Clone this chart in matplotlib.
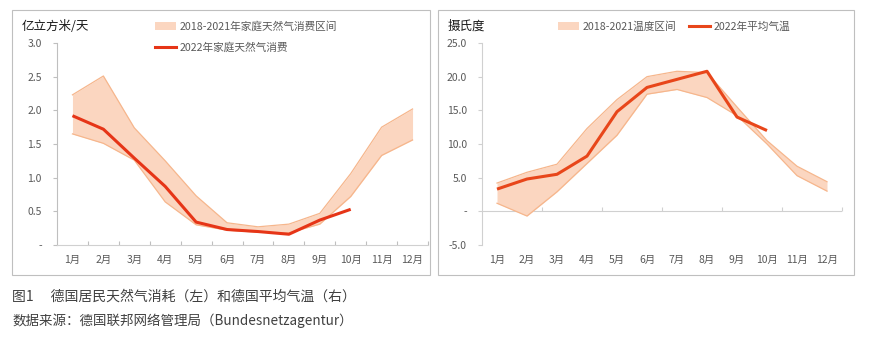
import matplotlib
matplotlib.use("Agg")
import matplotlib.pyplot as plt
from matplotlib.patches import Rectangle, Patch
from matplotlib.lines import Line2D
from matplotlib.ticker import FuncFormatter, FixedLocator

plt.rcParams['font.family'] = ['Noto Sans CJK SC', 'DejaVu Sans']

months = ['1月', '2月', '3月', '4月', '5月', '6月', '7月', '8月', '9月', '10月', '11月', '12月']

gas_upper = [2.23, 2.51, 1.74, 1.25, 0.73, 0.33, 0.27, 0.31, 0.47, 1.06, 1.75, 2.02]
gas_lower = [1.65, 1.51, 1.26, 0.64, 0.30, 0.22, 0.19, 0.18, 0.31, 0.72, 1.33, 1.56]
gas_2022 = [1.92, 1.72, 1.29, 0.87, 0.34, 0.23, 0.20, 0.16, 0.37, 0.53]

temp_upper = [4.2, 5.8, 7.0, 12.3, 16.6, 20.0, 20.8, 20.6, 15.5, 10.5, 6.7, 4.4]
temp_lower = [1.2, -0.7, 2.9, 7.1, 11.3, 17.4, 18.1, 16.9, 14.2, 10.0, 5.3, 3.0]
temp_2022 = [3.3, 4.8, 5.5, 8.2, 14.8, 18.4, 19.6, 20.8, 14.0, 12.0]

gas_yticks = [0, 0.5, 1.0, 1.5, 2.0, 2.5, 3.0]
temp_yticks = [-5, 0, 5, 10, 15, 20, 25]

W, H = 872, 348
fig = plt.figure(figsize=(W / 100, H / 100), dpi=100)

FILL = '#FBD6C0'
EDGE = '#F6B68C'
TICKC = '#595959'

def fx(px):
    return px / W

def fy(py):
    return 1 - py / H

# panel boxes
for x0, x1 in [(12, 430), (438, 854)]:
    fig.patches.append(Rectangle((fx(x0), fy(275)), fx(x1) - fx(x0), fy(10) - fy(275),
                                 transform=fig.transFigure, fill=False,
                                 edgecolor='#BFBFBF', linewidth=0.8))

x = list(range(12))

def fmt(v, pos):
    if abs(v) < 1e-9:
        return '-'
    return f'{v:.1f}'

# ---------- left panel ----------
ax1 = fig.add_axes([fx(57), fy(245), fx(428) - fx(57), fy(43) - fy(245)])
ax1.fill_between(x, gas_lower, gas_upper, color=FILL, linewidth=0)
ax1.plot(x, gas_upper, color=EDGE, linewidth=0.9)
ax1.plot(x, gas_lower, color=EDGE, linewidth=0.9)
ax1.plot(range(len(gas_2022)), gas_2022, color='#E63517', linewidth=2.2, solid_capstyle='butt')
ax1.set_xlim(-0.5, 11.5)
ax1.set_ylim(0, 3.0)
ax1.set_yticks(gas_yticks)
ax1.yaxis.set_major_formatter(FuncFormatter(fmt))
ax1.xaxis.set_major_locator(FixedLocator([i + 0.5 for i in range(12)]))
ax1.xaxis.set_minor_locator(FixedLocator(x))
ax1.set_xticklabels([])
ax1.set_xticklabels(months, minor=True)
ax1.tick_params(axis='x', which='major', direction='in', length=3, color='#BFBFBF', width=0.8)
ax1.tick_params(axis='x', which='minor', length=0, pad=7, labelsize=7.5, labelcolor=TICKC)
ax1.tick_params(axis='y', direction='out', length=3, color='#BFBFBF', width=0.8,
                pad=8, labelsize=7.5, labelcolor=TICKC)
for s in ['top', 'right']:
    ax1.spines[s].set_visible(False)
ax1.spines['left'].set_color('#BFBFBF')
ax1.spines['bottom'].set_color('#D0D0D0')
ax1.spines['left'].set_linewidth(0.8)
ax1.spines['bottom'].set_linewidth(0.8)
ax1.patch.set_alpha(0)

fig.text(fx(22), fy(26), '亿立方米/天', fontsize=9, color='#1a1a1a', va='center', ha='left')

leg1 = fig.legend(handles=[Patch(facecolor=FILL, edgecolor='none'),
                           Line2D([], [], color='#E63517', linewidth=2.2)],
                  labels=['2018-2021年家庭天然气消费区间', '2022年家庭天然气消费'],
                  loc='upper left', bbox_to_anchor=(fx(155), fy(21)),
                  frameon=False, fontsize=7.7, borderpad=0, borderaxespad=0,
                  handlelength=2.0, handletextpad=0.3, labelspacing=0.95)
for t in leg1.get_texts():
    t.set_color(TICKC)

# ---------- right panel ----------
ax2 = fig.add_axes([fx(482), fy(245), fx(842) - fx(482), fy(43) - fy(245)])
ax2.fill_between(x, temp_lower, temp_upper, color=FILL, linewidth=0)
ax2.plot(x, temp_upper, color=EDGE, linewidth=0.9)
ax2.plot(x, temp_lower, color=EDGE, linewidth=0.9)
ax2.plot(range(len(temp_2022)), temp_2022, color='#E8461A', linewidth=2.2, solid_capstyle='butt')
ax2.set_xlim(-0.5, 11.5)
ax2.set_ylim(-5, 25)
ax2.set_yticks(temp_yticks)
ax2.yaxis.set_major_formatter(FuncFormatter(fmt))
ax2.set_xticks(x)
ax2.set_xticklabels(months)
ax2.tick_params(axis='x', length=0, pad=7, labelsize=7.5, labelcolor=TICKC)
ax2.tick_params(axis='y', direction='out', length=3, color='#D0D0D0', width=0.8,
                pad=8, labelsize=7.5, labelcolor=TICKC)
for s in ['top', 'right', 'bottom']:
    ax2.spines[s].set_visible(False)
ax2.spines['left'].set_color('#D0D0D0')
ax2.spines['left'].set_linewidth(0.8)
ax2.axhline(0, color='#D0D0D0', linewidth=0.8, zorder=0)
sec = ax2.secondary_xaxis(5 / 30)
sec.set_xticks([1.5, 3.5, 5.5, 7.5, 9.5, 11.5])
sec.set_xticklabels([])
sec.tick_params(direction='in', length=3, color='#D0D0D0', width=0.8)
sec.spines['bottom'].set_visible(False)
sec.spines['top'].set_visible(False)
ax2.patch.set_alpha(0)

fig.text(fx(448), fy(26), '摄氏度', fontsize=9, color='#1a1a1a', va='center', ha='left')

leg2 = fig.legend(handles=[Patch(facecolor=FILL, edgecolor='none'),
                           Line2D([], [], color='#E8461A', linewidth=2.2)],
                  labels=['2018-2021温度区间', '2022年平均气温'],
                  loc='upper left', bbox_to_anchor=(fx(558), fy(21)), ncol=2,
                  frameon=False, fontsize=7.7, borderpad=0, borderaxespad=0,
                  handlelength=2.0, handletextpad=0.3, columnspacing=1.2)
for t in leg2.get_texts():
    t.set_color(TICKC)

# ---------- captions ----------
fig.text(fx(12), fy(297), '图1　 德国居民天然气消耗（左）和德国平均气温（右）',
         fontsize=10, color='#404040', va='center', ha='left')
fig.text(fx(12), fy(321), '数据来源：德国联邦网络管理局（Bundesnetzagentur）',
         fontsize=9.7, color='#404040', va='center', ha='left')

fig.savefig('out.png', dpi=100)
